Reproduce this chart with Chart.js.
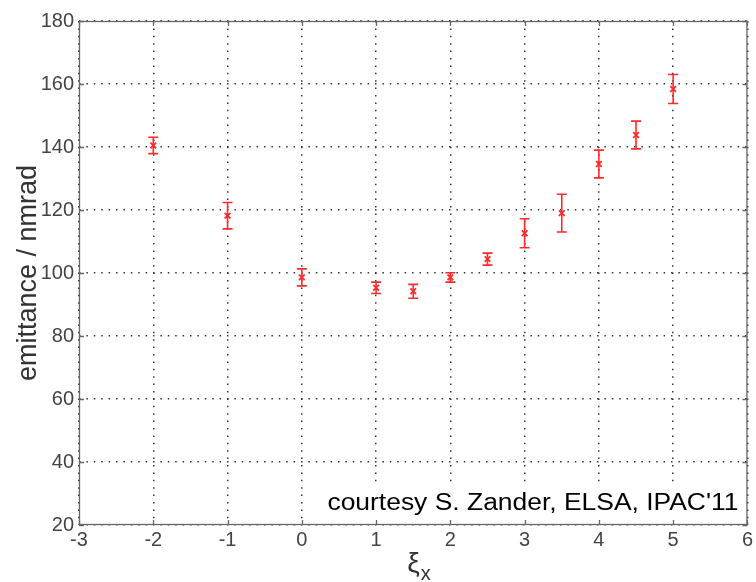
<!DOCTYPE html>
<html>
<head>
<meta charset="utf-8">
<script src="https://cdn.jsdelivr.net/npm/chart.js@4/dist/chart.umd.min.js"></script>
<style>
  html, body { margin: 0; padding: 0; background: #fff; }
  #wrap { width: 756px; height: 582px; }
</style>
</head>
<body>
<div id="wrap"><canvas id="chart"></canvas></div>
<script>
// chromaticity xi_x and measured emittance (nm rad) with error
const xi = [-2, -1, 0, 1, 1.5, 2, 2.5, 3, 3.5, 4, 4.5, 5];
const emittance = [140.5, 118.2, 98.6, 95.3, 94.2, 98.6, 104.4, 112.6, 119.0, 134.6, 143.8, 158.4];
const errors = [2.6, 4.2, 2.7, 1.8, 2.2, 1.5, 1.9, 4.6, 6.0, 4.4, 4.4, 4.6];
const xTicks = [-3, -2, -1, 0, 1, 2, 3, 4, 5, 6];
const yTicks = [20, 40, 60, 80, 100, 120, 140, 160, 180];
const note = "courtesy S. Zander, ELSA, IPAC'11";
const xTitle = ["ξ", "x"];

const red = "#ff2a2a";
const font = "'Liberation Sans', Arial, sans-serif";

const errorBars = {
  id: "errorBars",
  beforeDatasetsDraw(chart) {
    const ctx = chart.ctx;
    const xs = chart.scales.x, ys = chart.scales.y;
    ctx.save();
    ctx.strokeStyle = red;
    ctx.lineWidth = 1.6;
    for (let i = 0; i < xi.length; i++) {
      const px = xs.getPixelForValue(xi[i]);
      const top = ys.getPixelForValue(emittance[i] + errors[i]);
      const bot = ys.getPixelForValue(emittance[i] - errors[i]);
      ctx.beginPath();
      ctx.moveTo(px, top); ctx.lineTo(px, bot);
      ctx.moveTo(px - 5, top); ctx.lineTo(px + 5, top);
      ctx.moveTo(px - 5, bot); ctx.lineTo(px + 5, bot);
      ctx.stroke();
    }
    ctx.restore();
  },
  afterDraw(chart) {
    const ctx = chart.ctx;
    const a = chart.chartArea;
    ctx.save();
    // note box, over the grid
    ctx.font = "23px " + font;
    const w = ctx.measureText(note).width;
    const sx = 411 / w;
    ctx.fillStyle = "#fff";
    ctx.fillRect(a.right - 430, a.bottom - 38, 429, 37);
    ctx.save();
    ctx.translate(a.right - 9, a.bottom - 15);
    ctx.scale(sx, 1);
    ctx.fillStyle = "#000";
    ctx.textAlign = "right";
    ctx.textBaseline = "alphabetic";
    ctx.fillText(note, 0, 0);
    ctx.restore();
    // frame
    ctx.strokeStyle = "#666";
    ctx.lineWidth = 1.3;
    ctx.strokeRect(a.left + 0.5, a.top + 0.5, a.right - a.left - 1, a.bottom - a.top - 1);
    // inward ticks
    ctx.beginPath();
    chart.scales.x.ticks.forEach(t => {
      const px = Math.round(chart.scales.x.getPixelForValue(t.value)) + 0.5;
      ctx.moveTo(px, a.bottom); ctx.lineTo(px, a.bottom - 5);
      ctx.moveTo(px, a.top); ctx.lineTo(px, a.top + 5);
    });
    chart.scales.y.ticks.forEach(t => {
      const py = Math.round(chart.scales.y.getPixelForValue(t.value)) + 0.5;
      ctx.moveTo(a.left, py); ctx.lineTo(a.left + 5, py);
      ctx.moveTo(a.right, py); ctx.lineTo(a.right - 5, py);
    });
    ctx.stroke();
    // x axis title with subscript
    const cx = (a.left + a.right) / 2;
    ctx.fillStyle = "#333";
    ctx.textBaseline = "alphabetic";
    ctx.textAlign = "left";
    ctx.font = "28px " + font;
    const w1 = ctx.measureText(xTitle[0]).width;
    ctx.fillText(xTitle[0], cx - 6, 572);
    ctx.font = "20px " + font;
    ctx.fillText(xTitle[1], cx - 6 + w1 + 1, 580);
    ctx.restore();
  }
};

new Chart(document.getElementById("chart"), {
  type: "scatter",
  data: {
    datasets: [{
      data: xi.map((x, i) => ({ x: x, y: emittance[i] })),
      pointStyle: "crossRot",
      pointRadius: 4,
      pointBorderWidth: 1.8,
      borderColor: red,
      backgroundColor: red,
      showLine: false
    }]
  },
  options: {
    responsive: true,
    maintainAspectRatio: false,
    animation: false,
    layout: { padding: { top: 21, right: 5, left: 0, bottom: 0 } },
    plugins: { legend: { display: false }, tooltip: { enabled: false } },
    scales: {
      x: {
        type: "linear", min: -3, max: 6,
        afterBuildTicks: s => { s.ticks = xTicks.map(v => ({ value: v })); },
        afterFit: s => { s.height = 57; },
        grid: { color: "#333", lineWidth: 1.5, drawTicks: false },
        border: { display: false, dash: [1.5, 5.9] },
        ticks: { padding: 3, color: "#444", font: { family: font, size: 20 } }
      },
      y: {
        min: 20, max: 180,
        afterBuildTicks: s => { s.ticks = yTicks.map(v => ({ value: v })); },
        afterFit: s => { s.width = 79; },
        grid: { color: "#333", lineWidth: 1.5, drawTicks: false },
        border: { display: false, dash: [1.5, 5.9] },
        ticks: { padding: 5, color: "#444", font: { family: font, size: 20 } },
        title: { display: true, text: "emittance / nmrad", color: "#333", padding: { top: 12, bottom: 0 }, font: { family: font, size: 27 } }
      }
    }
  },
  plugins: [errorBars]
});
</script>
</body>
</html>
